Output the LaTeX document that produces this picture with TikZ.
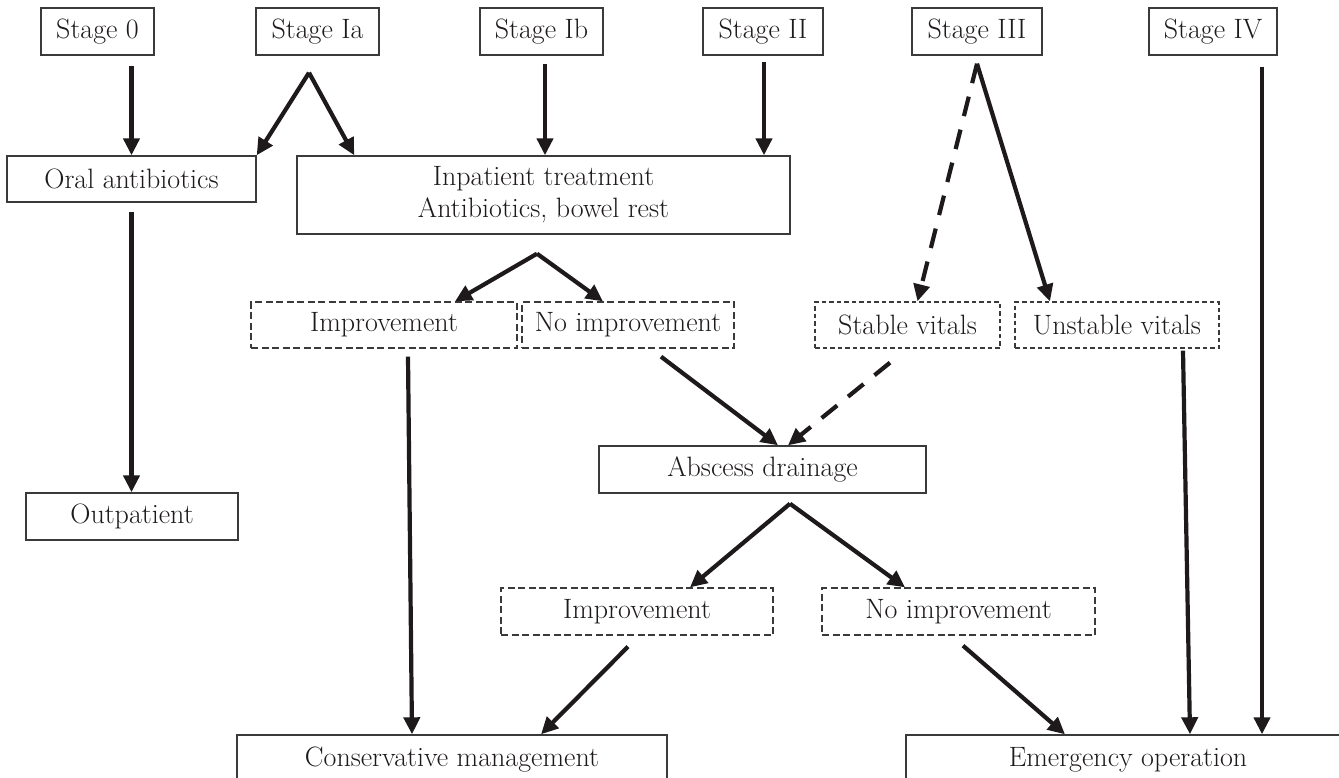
\documentclass[tikz,border=0pt]{standalone}
\usetikzlibrary{arrows.meta}
\definecolor{ink}{HTML}{1E1A1B}
\definecolor{boxline}{HTML}{3A3A3A}
\begin{document}
\begin{tikzpicture}[x=1pt,y=-1pt,
  every node/.style={font=\fontsize{28}{32}\selectfont, text=ink, inner sep=0pt, align=center},
  solidbox/.style={draw=boxline, line width=1.4pt, rectangle},
  dashbox/.style={draw=boxline, line width=1.3pt, rectangle, dash pattern=on 7pt off 3.5pt},
  dotbox/.style={draw=boxline, line width=1.3pt, rectangle, dash pattern=on 4.5pt off 3pt},
  arr/.style={draw=ink, line width=4.2pt, -{Triangle[length=17pt,width=16pt]}},
  dasharr/.style={arr, dash pattern=on 20pt off 14pt}
]
\useasboundingbox[fill=white] (0,0) rectangle (1339,777);

% top stage boxes
\node[solidbox, minimum width=113pt, minimum height=47pt] (s0)  at (97.5,31.5) {Stage 0};
\node[solidbox, minimum width=123pt, minimum height=47pt] (s1a) at (317.5,31.5) {Stage Ia};
\node[solidbox, minimum width=123pt, minimum height=47pt] (s1b) at (541.5,31.5) {Stage Ib};
\node[solidbox, minimum width=120pt, minimum height=47pt] (s2)  at (763,31.5) {Stage II};
\node[solidbox, minimum width=130pt, minimum height=47pt] (s3)  at (977,31.5) {Stage III};
\node[solidbox, minimum width=128pt, minimum height=47pt] (s4)  at (1213,31.5) {Stage IV};

% second row
\node[solidbox, minimum width=249pt, minimum height=46pt] (oral) at (131.5,179) {Oral antibiotics};
\node[solidbox, minimum width=493pt, minimum height=78pt] (inp)  at (543.5,195) {Inpatient treatment\\Antibiotics, bowel rest};

% third row
\node[dashbox, minimum width=266pt, minimum height=46pt] (imp1)  at (384,325) {Improvement};
\node[dashbox, minimum width=212pt, minimum height=46pt] (nimp1) at (628,325) {No improvement};
\node[dotbox,  minimum width=185pt, minimum height=46pt] (stab)  at (907.5,325) {Stable vitals};
\node[dotbox,  minimum width=204pt, minimum height=46pt] (unst)  at (1117,325) {Unstable vitals};

% middle
\node[solidbox, minimum width=327pt, minimum height=47pt] (abs)  at (762.5,469.5) {Abscess drainage};
\node[solidbox, minimum width=212pt, minimum height=47pt] (outp) at (132,516.5) {Outpatient};

\node[dashbox, minimum width=272pt, minimum height=47pt] (imp2)  at (637,611.5) {Improvement};
\node[dashbox, minimum width=273pt, minimum height=47pt] (nimp2) at (958.5,611.5) {No improvement};

% bottom (cut by page edge)
\node[solidbox, minimum width=430pt, minimum height=50pt] (cons) at (452,760) {Conservative management};
\node[solidbox, minimum width=444pt, minimum height=50pt] (emer) at (1128,760) {Emergency operation};

% connectors
\coordinate (apexIa) at ([xshift=-8.5pt,yshift=-17pt]s1a.south);
\coordinate (apexInp) at ([xshift=-6.5pt,yshift=-19pt]inp.south);
\coordinate (apexIII) at ([yshift=-8pt]s3.south);
\coordinate (apexAbs) at ([xshift=27.5pt,yshift=-10pt]abs.south);

\draw[arr, shorten <=10pt] (s0.south -| oral.north) -- (oral.north);
\draw[arr] (apexIa) -- (oral.north east);
\draw[arr] (apexIa) -- ([xshift=58pt]inp.north west);
\draw[arr] ([xshift=3.5pt,yshift=-8pt]s1b.south) -- ([xshift=3.5pt]s1b.south |- inp.north);
\draw[arr] ([xshift=1pt,yshift=-6pt]s2.south) -- ([xshift=1pt]s2.south |- inp.north);
\draw[arr, shorten <=9pt] (oral.south) -- (oral.south |- outp.north);

\draw[arr] (apexInp) -- ([xshift=71pt]imp1.north);
\draw[arr] (apexInp) -- ([xshift=-25pt]nimp1.north);

\draw[dasharr] (apexIII) -- ([xshift=10pt]stab.north);
\draw[arr] (apexIII) -- ([xshift=-67pt]unst.north);
\draw[arr] ([xshift=49pt,yshift=-11pt]s4.south) -- ([xshift=49pt]s4.south |- emer.north);

\draw[arr] ([xshift=24pt,yshift=-8pt]imp1.south) -- ([xshift=-40pt]cons.north);
\draw[arr] ([xshift=33pt,yshift=-8pt]nimp1.south) -- ([xshift=15.5pt]abs.north);
\draw[dasharr] ([xshift=-17.5pt,yshift=-14pt]stab.south) -- ([xshift=25.5pt]abs.north);
\draw[arr] ([xshift=66pt,yshift=-2pt]unst.south) -- ([xshift=62pt]emer.north);

\draw[arr] (apexAbs) -- ([xshift=53pt]imp2.north);
\draw[arr] (apexAbs) -- ([xshift=-53.5pt]nimp2.north);

\draw[arr] ([xshift=-9pt,yshift=-11pt]imp2.south) -- ([xshift=89pt]cons.north);
\draw[arr] ([xshift=4.5pt,yshift=-10pt]nimp2.south) -- ([xshift=-63pt]emer.north);
\end{tikzpicture}
\end{document}
